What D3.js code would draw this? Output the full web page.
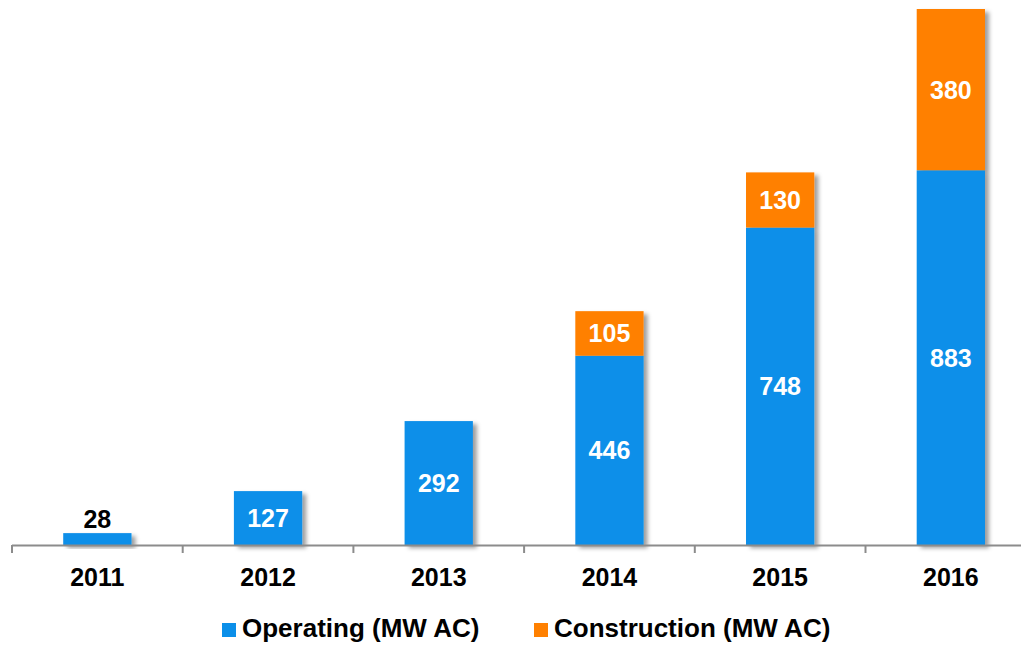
<!DOCTYPE html>
<html>
<head>
<meta charset="utf-8">
<script src="https://cdn.jsdelivr.net/npm/d3@7"></script>
<style>
  html, body { margin: 0; padding: 0; background: #fff; }
  svg { display: block; font-family: "Liberation Sans", Arial, sans-serif; font-weight: bold; }
</style>
</head>
<body>
<div id="chart"></div>
<script>
const years = ['2011', '2012', '2013', '2014', '2015', '2016'];
const operating = [28, 127, 292, 446, 748, 883];
const construction = [0, 0, 0, 105, 130, 380];
const seriesNames = ['Operating (MW AC)', 'Construction (MW AC)'];
const seriesColors = ['#0b8fe9', '#ff8000'];

const width = 1021, height = 645;
const svg = d3.select('#chart').append('svg')
  .attr('width', width)
  .attr('height', height);

// drop shadow like the original office chart
const defs = svg.append('defs');
const filter = defs.append('filter').attr('id', 'shadow')
  .attr('x', '-20%').attr('y', '-20%').attr('width', '150%').attr('height', '150%');
filter.append('feDropShadow')
  .attr('dx', 4).attr('dy', 3).attr('stdDeviation', 2)
  .attr('flood-color', '#000').attr('flood-opacity', 0.38);

const step = 170.7;
const x = d3.scaleBand()
  .domain(years)
  .range([12, 12 + step * years.length])
  .padding(0);

const y = d3.scaleLinear()
  .domain([0, 1263])
  .range([545, 9]);

const barW = x.bandwidth() * 0.4;

const stacked = years.map((yr, i) => ({
  year: yr,
  segs: [
    { key: 0, y0: 0, y1: operating[i], v: operating[i] },
    { key: 1, y0: operating[i], y1: operating[i] + construction[i], v: construction[i] }
  ]
}));

// bars
const groups = svg.append('g').selectAll('g')
  .data(stacked)
  .enter().append('g')
  .attr('filter', 'url(#shadow)');

groups.selectAll('rect')
  .data(d => d.segs.filter(s => s.v > 0).map(s => ({ ...s, year: d.year })))
  .enter().append('rect')
  .attr('x', d => x(d.year) + (x.bandwidth() - barW) / 2)
  .attr('y', d => y(d.y1))
  .attr('width', barW)
  .attr('height', d => y(d.y0) - y(d.y1))
  .attr('fill', d => seriesColors[d.key]);

// axis line + ticks at band boundaries
const axis = svg.append('g');
axis.append('line')
  .attr('x1', 12).attr('x2', width)
  .attr('y1', 545.5).attr('y2', 545.5)
  .attr('stroke', '#8c8c8c').attr('stroke-width', 2);
axis.selectAll('line.tick')
  .data(years)
  .enter().append('line')
  .attr('class', 'tick')
  .attr('x1', d => x(d)).attr('x2', d => x(d))
  .attr('y1', 545).attr('y2', 553)
  .attr('stroke', '#8c8c8c').attr('stroke-width', 2);

axis.selectAll('text')
  .data(years)
  .enter().append('text')
  .attr('x', d => x(d) + x.bandwidth() / 2)
  .attr('y', 586)
  .attr('text-anchor', 'middle')
  .attr('font-size', 25)
  .attr('fill', '#000')
  .text(d => d);

// value labels
const labels = [];
stacked.forEach(d => {
  d.segs.forEach(s => {
    if (s.v <= 0) return;
    const h = y(s.y0) - y(s.y1);
    const inside = h > 30;
    labels.push({
      year: d.year,
      v: s.v,
      yPos: inside ? (y(s.y0) + y(s.y1)) / 2 + 9 : y(s.y1) - 5,
      color: inside ? '#fff' : '#000'
    });
  });
});

svg.append('g').selectAll('text')
  .data(labels)
  .enter().append('text')
  .attr('x', d => x(d.year) + x.bandwidth() / 2)
  .attr('y', d => d.yPos)
  .attr('text-anchor', 'middle')
  .attr('font-size', 25)
  .attr('fill', d => d.color)
  .text(d => d.v);

// legend
const legendItems = [
  { name: seriesNames[0], color: seriesColors[0], x: 222 },
  { name: seriesNames[1], color: seriesColors[1], x: 534 }
];
const legend = svg.append('g').selectAll('g')
  .data(legendItems)
  .enter().append('g')
  .attr('transform', d => `translate(${d.x},623)`);
legend.append('rect')
  .attr('width', 14).attr('height', 14)
  .attr('fill', d => d.color);
legend.append('text')
  .attr('x', 20).attr('y', 14)
  .attr('font-size', 26)
  .attr('fill', '#000')
  .text(d => d.name);
</script>
</body>
</html>
